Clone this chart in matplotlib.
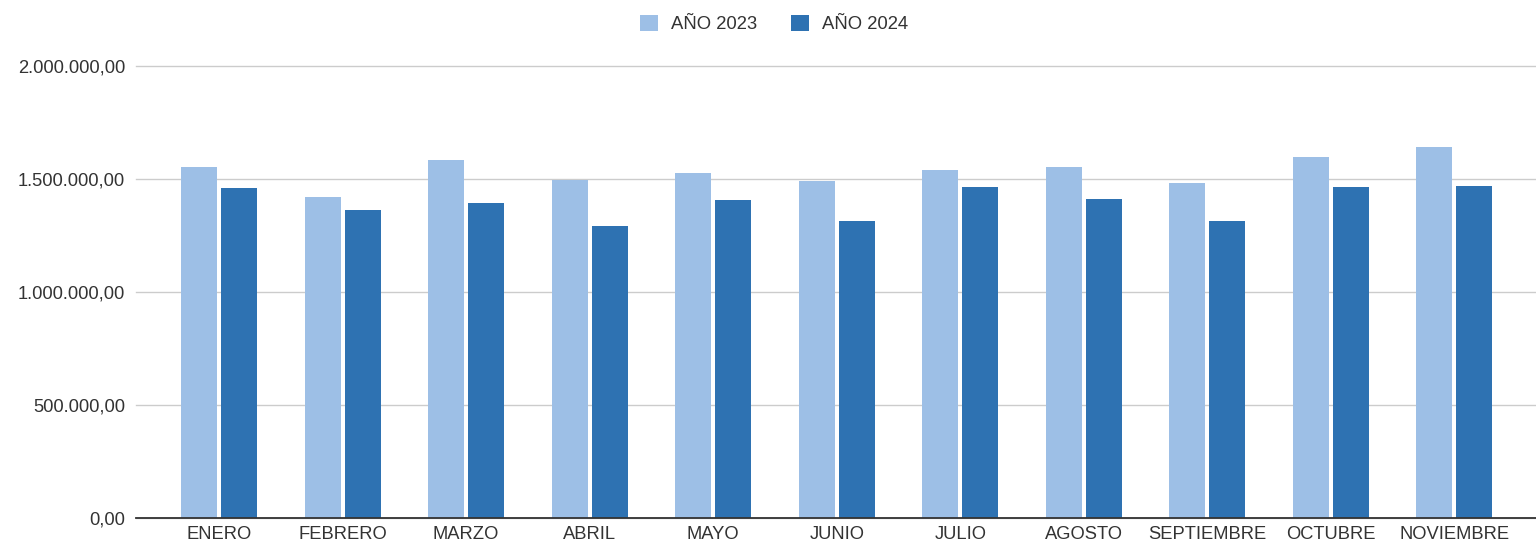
import matplotlib
matplotlib.use("Agg")
import matplotlib.pyplot as plt
import numpy as np
from matplotlib.ticker import FuncFormatter

meses = ["ENERO", "FEBRERO", "MARZO", "ABRIL", "MAYO", "JUNIO", "JULIO",
         "AGOSTO", "SEPTIEMBRE", "OCTUBRE", "NOVIEMBRE"]
anio_2023 = [1553000, 1417700, 1581400, 1494000, 1525200, 1489800, 1539800,
             1553100, 1482300, 1597300, 1639000]
anio_2024 = [1460000, 1361500, 1391100, 1290700, 1404400, 1312800, 1461900,
             1411500, 1312800, 1461900, 1469000]
series_labels = ["AÑO 2023", "AÑO 2024"]
yticks = [0, 500000, 1000000, 1500000, 2000000]

plt.rcParams['font.family'] = ['Liberation Sans', 'DejaVu Sans']
text_color = "#333333"

fig = plt.figure(figsize=(15.36, 5.46), dpi=100)
ax = fig.add_axes([136/1536, 28.3/546, 1 - 136/1536, (517.7 - 65.7)/546])

x = np.arange(len(meses))
w = 0.2915
off = 0.162
b1 = ax.bar(x - off, anio_2023, width=w, color="#9dbfe6", label=series_labels[0], zorder=3)
b2 = ax.bar(x + off, anio_2024, width=w, color="#2e72b2", label=series_labels[1], zorder=3)

ax.set_ylim(0, 2000000)
ax.set_xlim(-0.672, 10.66)
ax.set_yticks(yticks)

def fmt(v, pos):
    s = f"{v:,.2f}"
    return s.replace(",", "X").replace(".", ",").replace("X", ".")

ax.yaxis.set_major_formatter(FuncFormatter(fmt))
ax.set_xticks(x)
ax.set_xticklabels(meses)
ax.tick_params(axis='both', length=0, labelsize=13.2, colors=text_color)
ax.tick_params(axis='y', pad=8)
ax.tick_params(axis='x', pad=6)

ax.grid(axis='y', color="#cccccc", linewidth=1.0, zorder=0)
ax.set_axisbelow(True)
for s in ["top", "right", "left"]:
    ax.spines[s].set_visible(False)
ax.spines["bottom"].set_color("#333333")
ax.spines["bottom"].set_linewidth(1.3)
ax.spines["bottom"].set_zorder(4)
for gl in ax.get_ygridlines():
    gl.set_clip_on(False)

fig.legend(handles=[b1, b2], labels=series_labels, loc="center",
           bbox_to_anchor=(774/1536, 1 - 24/546), ncol=2, frameon=False,
           fontsize=13.3, labelcolor=text_color, handlelength=1.0, handleheight=1.0,
           handletextpad=0.7, columnspacing=1.8)

fig.savefig("out.png", dpi=100, facecolor="white")
